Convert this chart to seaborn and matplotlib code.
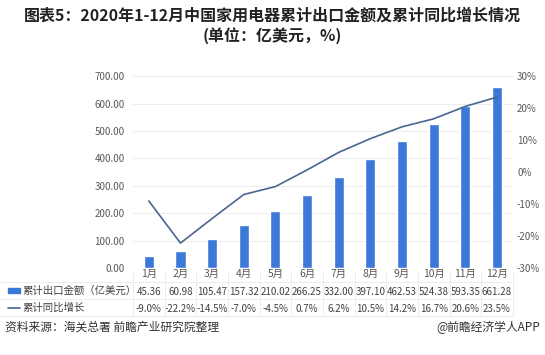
import pandas as pd
import seaborn as sns
import matplotlib
matplotlib.use('Agg')
from matplotlib import pyplot as plt
from matplotlib.transforms import blended_transform_factory
from matplotlib.lines import Line2D
from matplotlib.patches import Rectangle
from matplotlib.ticker import FuncFormatter

# data
months = ['1月', '2月', '3月', '4月', '5月', '6月', '7月', '8月', '9月', '10月', '11月', '12月']
export_amount = [45.36, 60.98, 105.47, 157.32, 210.02, 266.25, 332.00, 397.10, 462.53, 524.38, 593.35, 661.28]
yoy_growth = [-9.0, -22.2, -14.5, -7.0, -4.5, 0.7, 6.2, 10.5, 14.2, 16.7, 20.6, 23.5]
left_ticks = [0, 100, 200, 300, 400, 500, 600, 700]
right_ticks = [-30, -20, -10, 0, 10, 20, 30]

df = pd.DataFrame({'月份': months, '金额': export_amount, '增长': yoy_growth})

sns.set_theme(style='white')
plt.rcParams['font.family'] = ['Noto Sans CJK SC', 'DejaVu Sans']

bar_color = '#3b78d8'
line_color = '#4a6592'
tick_color = '#595959'
grid_color = '#ededed'

fig = plt.figure(figsize=(5.45, 3.55), dpi=100)
ax = fig.add_axes([0.244, 0.245, 0.697, 0.54])

sns.barplot(x='月份', y='金额', data=df, color=bar_color, width=0.32,
            saturation=1, ax=ax, zorder=3)
ax.set_xlim(-0.5, 11.5)
ax.set_ylim(0, 700)
ax.set_yticks(left_ticks)
ax.yaxis.set_major_formatter(FuncFormatter(lambda v, p: f'{v:.2f}'))
ax.grid(axis='y', color=grid_color, linewidth=0.8, zorder=0)
ax.tick_params(axis='y', labelsize=7, colors=tick_color, length=0, pad=6)
ax.tick_params(axis='x', labelsize=7.5, colors=tick_color, length=0, pad=1)
ax.set_xlabel('')
ax.set_ylabel('')
for s in ax.spines.values():
    s.set_visible(False)

ax2 = ax.twinx()
sns.lineplot(x=list(range(len(months))), y=yoy_growth, ax=ax2, color=line_color,
             linewidth=1.2, zorder=4)
ax2.set_ylim(-30, 30)
ax2.set_yticks(right_ticks)
ax2.yaxis.set_major_formatter(FuncFormatter(lambda v, p: f'{v:.0f}%'))
ax2.tick_params(axis='y', labelsize=7, colors=tick_color, length=0, pad=3)
for s in ax2.spines.values():
    s.set_visible(False)

# data table under the axis
tr = blended_transform_factory(ax.transData, ax.transAxes)
for i in range(len(months)):
    ax.text(i, -0.125, f'{export_amount[i]:.2f}', transform=tr, ha='center', va='center',
            fontsize=7, color='#404040')
    ax.text(i, -0.215, f'{yoy_growth[i]:.1f}%', transform=tr, ha='center', va='center',
            fontsize=7, color='#404040')

# table lines
tab_left = 133 / 545
tab_right = 513 / 545
for yy in [73 / 355, 56 / 355, 39 / 355]:
    fig.add_artist(Line2D([0.0, tab_right], [yy, yy], transform=fig.transFigure,
                          color='#ececec', linewidth=0.7))
for i in range(13):
    xx = tab_left + i * (tab_right - tab_left) / 12
    fig.add_artist(Line2D([xx, xx], [39 / 355, 83 / 355], transform=fig.transFigure,
                          color='#ececec', linewidth=0.7))

# row labels
fig.add_artist(Rectangle((8 / 545, 62 / 355), 12 / 545, 5 / 355, transform=fig.transFigure,
                         color=bar_color))
fig.add_artist(Line2D([8 / 545, 20 / 545], [47 / 355, 47 / 355], transform=fig.transFigure,
                      color=line_color, linewidth=1.2))
fig.text(22 / 545, 64.5 / 355, '累计出口金额（亿美元）', fontsize=7.5, color='#404040', va='center')
fig.text(22 / 545, 47 / 355, '累计同比增长', fontsize=7.5, color='#404040', va='center')

# title
fig.text(0.5, 0.955, '图表5：2020年1-12月中国家用电器累计出口金额及累计同比增长情况',
         ha='center', va='center', fontsize=11.5, fontweight='bold', color='#222222')
fig.text(0.5, 0.9, '(单位：亿美元，%)', ha='center', va='center', fontsize=11.5,
         fontweight='bold', color='#222222')

# footer
fig.text(5 / 545, 28 / 355, '资料来源：海关总署 前瞻产业研究院整理', fontsize=8.5,
         color='#333333', va='center')
fig.text(540 / 545, 28 / 355, '@前瞻经济学人APP', fontsize=8.5, color='#333333',
         va='center', ha='right')

fig.savefig('out.png', dpi=100)
